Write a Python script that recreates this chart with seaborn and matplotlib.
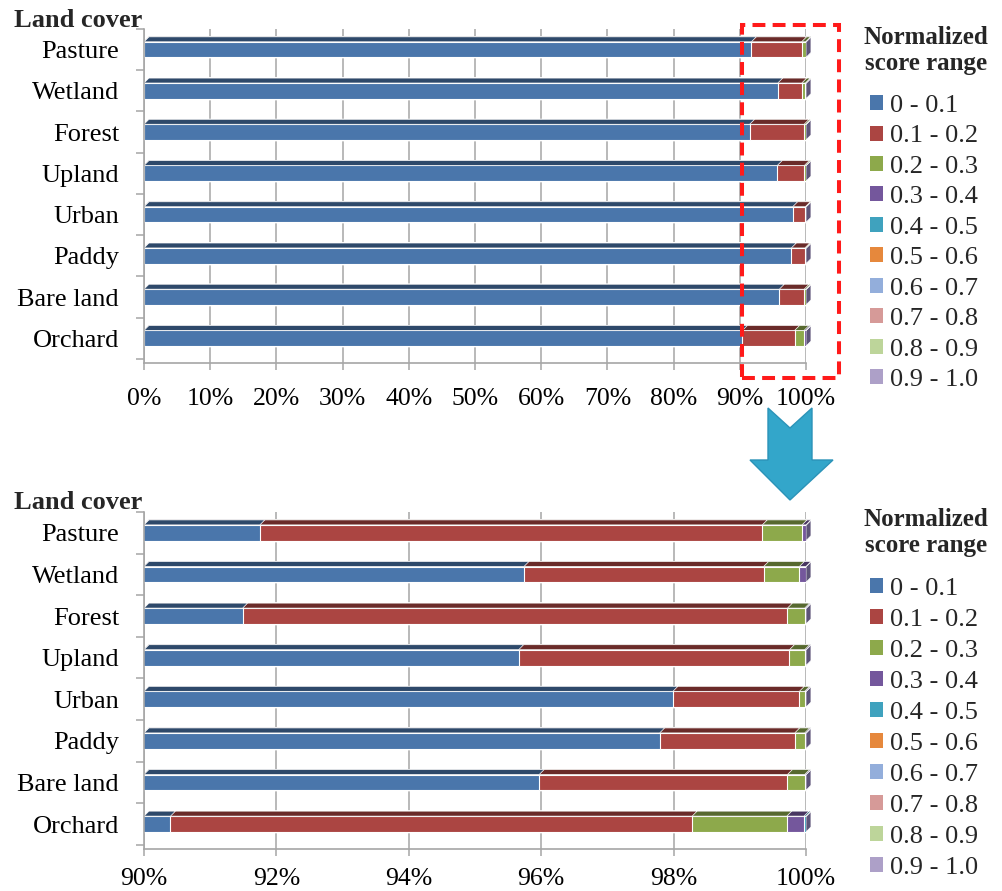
import numpy as np
import matplotlib
matplotlib.use("Agg")
import matplotlib.pyplot as plt
from matplotlib.patches import Polygon, Rectangle, Patch
import seaborn as sns

# land cover classes, top to bottom
land_cover = ["Pasture", "Wetland", "Forest", "Upland", "Urban", "Paddy", "Bare land", "Orchard"]
score_ranges = ["0 - 0.1", "0.1 - 0.2", "0.2 - 0.3", "0.3 - 0.4", "0.4 - 0.5",
                "0.5 - 0.6", "0.6 - 0.7", "0.7 - 0.8", "0.8 - 0.9", "0.9 - 1.0"]

# share (%) of each normalized score range, in land_cover order
r00_01 = [91.75, 95.74, 91.49, 95.66, 97.99, 97.79, 95.97, 90.40]
r01_02 = [7.59, 3.62, 8.23, 4.09, 1.91, 2.04, 3.75, 7.88]
r02_03 = [0.60, 0.54, 0.26, 0.23, 0.08, 0.15, 0.26, 1.43]
r03_04 = [0.06, 0.10, 0.02, 0.02, 0.02, 0.02, 0.02, 0.26]
r04_05 = [0.00, 0.00, 0.00, 0.00, 0.00, 0.00, 0.00, 0.03]
r05_06 = [0.00, 0.00, 0.00, 0.00, 0.00, 0.00, 0.00, 0.00]
r06_07 = [0.00, 0.00, 0.00, 0.00, 0.00, 0.00, 0.00, 0.00]
r07_08 = [0.00, 0.00, 0.00, 0.00, 0.00, 0.00, 0.00, 0.00]
r08_09 = [0.00, 0.00, 0.00, 0.00, 0.00, 0.00, 0.00, 0.00]
r09_10 = [0.00, 0.00, 0.00, 0.00, 0.00, 0.00, 0.00, 0.00]

top_ticks = [0, 10, 20, 30, 40, 50, 60, 70, 80, 90, 100]
zoom_ticks = [90, 92, 94, 96, 98, 100]

colors = ["#4A76AB", "#AB4542", "#8DA94B", "#74579C", "#3FA2BE",
          "#E6883C", "#93AEDB", "#D69A98", "#BDD59A", "#ADA0C8"]

sns.set_theme(style="white")
plt.rcParams["font.family"] = ["Liberation Serif", "DejaVu Serif"]

W, H = 1002, 891
fig = plt.figure(figsize=(W / 100, H / 100), dpi=100)


def px(x0, y0, x1, y1):
    # pixel box (top-left origin) -> figure fraction rect
    return [x0 / W, 1 - y1 / H, (x1 - x0) / W, (y1 - y0) / H]


shares = np.array([r00_01, r01_02, r02_03, r03_04, r04_05,
                   r05_06, r06_07, r07_08, r08_09, r09_10])
cum = np.cumsum(shares, axis=0)

bar_h = 0.38
dy = 0.12
grey = "#a6a6a6"


def shade(c, f=0.62):
    r, g, b = matplotlib.colors.to_rgb(c)
    return (r * f, g * f, b * f)


def draw_panel(ax, xmin, xmax, ticks, dx, xpad):
    # overlay cumulative bars, widest first
    for k in reversed(range(len(score_ranges))):
        n0 = len(ax.patches)
        sns.barplot(x=cum[k], y=land_cover, order=land_cover, orient="h",
                    color=colors[k], saturation=1, width=bar_h,
                    edgecolor="white", linewidth=0.8, ax=ax)
        for p in ax.patches[n0:]:
            x0 = max(p.get_x(), xmin)
            x1 = p.get_x() + p.get_width()
            yt = p.get_y()
            top = Polygon([(x0, yt), (x0 + dx, yt - dy), (x1 + dx, yt - dy), (x1, yt)],
                          closed=True, fc=shade(colors[k]), ec="white", lw=0.5,
                          clip_on=False)
            ax.add_patch(top)
            if k == len(score_ranges) - 1:
                cap = Polygon([(x1, yt), (x1 + dx, yt - dy), (x1 + dx, yt + bar_h - dy),
                               (x1, yt + bar_h)], closed=True, fc="#5d5478",
                              ec="white", lw=0.5, clip_on=False)
                ax.add_patch(cap)

    ax.set_xlim(xmin, xmax)
    ax.set_ylim(7.6, -0.5)
    ax.set_xticks(ticks)
    ax.set_xticklabels([f"{t}%" for t in ticks])
    ax.set_ylabel("")
    ax.set_xlabel("")
    ax.set_axisbelow(True)
    ax.grid(axis="x", color=grey, lw=1.1)
    ax.grid(axis="y", visible=False)
    for s in ["top", "right"]:
        ax.spines[s].set_visible(False)
    for s in ["left", "bottom"]:
        ax.spines[s].set_color(grey)
        ax.spines[s].set_linewidth(1.2)
    ax.set_yticks(np.arange(-0.5, 8, 1.0), minor=True)
    ax.tick_params(axis="y", which="major", length=0, pad=18, labelsize=19, labelcolor="black")
    ax.tick_params(axis="y", which="minor", length=6, color=grey, width=1.1, left=True)
    ax.tick_params(axis="x", length=5, color=grey, width=1.1, bottom=True,
                   pad=xpad, labelsize=18.5, labelcolor="black")


ax1 = fig.add_axes(px(144, 29, 806, 363))
draw_panel(ax1, 0, 100, top_ticks, 0.75, 13)

ax2 = fig.add_axes(px(144, 512, 806, 849))
draw_panel(ax2, 90, 100, zoom_ticks, 0.075, 9)

fig.text(142 / W, 1 - 27 / H, "Land cover", ha="right", va="baseline",
         fontsize=19, fontweight="bold")
fig.text(142 / W, 1 - 509 / H, "Land cover", ha="right", va="baseline",
         fontsize=19, fontweight="bold")

handles = [Patch(fc=c, ec="none") for c in colors]
for title_top, leg_top, spacing in [(26, 95, 0.32), (508, 578, 0.34)]:
    fig.text(926 / W, 1 - title_top / H, "Normalized\nscore range", ha="center",
             va="top", fontsize=18, fontweight="bold", linespacing=1.15)
    fig.legend(handles, score_ranges, loc="upper left",
               bbox_to_anchor=(870 / W, 1 - leg_top / H), frameon=False,
               fontsize=19, handlelength=0.5, handleheight=0.5, handletextpad=0.25,
               labelspacing=spacing, borderpad=0, borderaxespad=0)

# red dashed box marking the 90-100% zone
fig.add_artist(Rectangle((742 / W, 1 - 378 / H), (839 - 742) / W, (378 - 25) / H,
                         transform=fig.transFigure, fill=False, ec="#ff1a1a",
                         lw=2.9, ls=(0, (3.2, 1.8))))

# arrow pointing to the zoomed panel
arrow_px = [(768, 408), (790, 428), (812, 408), (812, 460), (833, 460),
            (790, 500), (750, 460), (768, 460)]
fig.add_artist(Polygon([(x / W, 1 - y / H) for x, y in arrow_px], closed=True,
                       transform=fig.transFigure, fc="#33a6ca", ec="#2b93b8", lw=1))

fig.savefig("out.png", dpi=100)
